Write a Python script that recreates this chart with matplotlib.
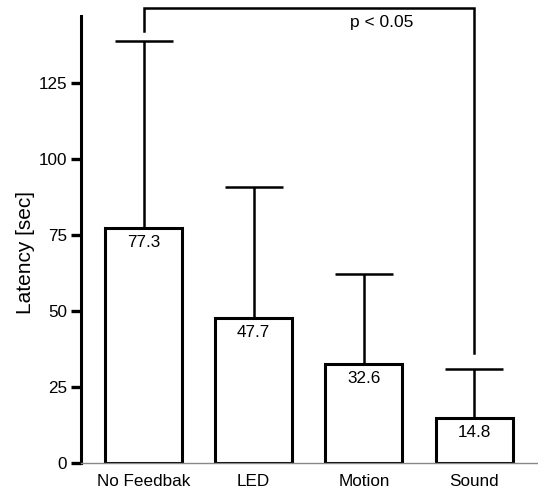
import matplotlib
matplotlib.use("Agg")
import matplotlib.pyplot as plt
import numpy as np

plt.rcParams["font.family"] = ["Liberation Sans", "DejaVu Sans"]

# data
categories = ["No Feedbak", "LED", "Motion", "Sound"]
means = [77.3, 47.7, 32.6, 14.8]
sd_upper = [61.5, 43.2, 29.7, 16.0]
yticks = [0, 25, 50, 75, 100, 125]
sig_pair = (0, 3)
sig_label = "p < 0.05"

fig = plt.figure(figsize=(5.38, 4.93), dpi=100)
ax = fig.add_axes([0.1506, 0.0609, 0.8494, 0.9067])

x = np.arange(len(categories))
ax.bar(x, means, width=0.7, color="white", edgecolor="black", linewidth=2.2, zorder=2)
ax.errorbar(x, means, yerr=[np.zeros(len(means)), sd_upper], fmt="none",
            ecolor="black", elinewidth=1.8, capsize=21, capthick=1.8, zorder=1)

for xi, m in zip(x, means):
    ax.annotate(f"{m}", (xi, m), xytext=(0, -5), textcoords="offset points",
                ha="center", va="top", fontsize=12.3)

# significance bracket
i, j = sig_pair
top = 149.6
ax.plot([x[i], x[i], x[j], x[j]],
        [means[i] + sd_upper[i] + 3.2, top, top, means[j] + sd_upper[j] + 5.3],
        color="black", linewidth=1.8, clip_on=False, solid_joinstyle="miter")
ax.text(x[2] + 0.16, top - 2.3, sig_label, ha="center", va="top", fontsize=12.5)

ax.set_xlim(-0.567, 3.58)
ax.set_ylim(0, 147)
ax.set_xticks(x)
ax.set_xticklabels(categories, fontsize=12.3)
ax.set_yticks(yticks)
ax.set_yticklabels([str(t) for t in yticks], fontsize=12.3)
ax.tick_params(axis="x", length=0, pad=8)
ax.tick_params(axis="y", length=7, width=2.4, pad=3)
ax.set_ylabel("Latency [sec]", fontsize=15, va="center")
ax.yaxis.set_label_coords(-0.122, 0.47)

ax.spines["top"].set_visible(False)
ax.spines["right"].set_visible(False)
ax.spines["left"].set_linewidth(2.2)
ax.spines["bottom"].set_linewidth(1.0)
ax.spines["bottom"].set_color("#888888")

fig.savefig("out.png", dpi=100)
